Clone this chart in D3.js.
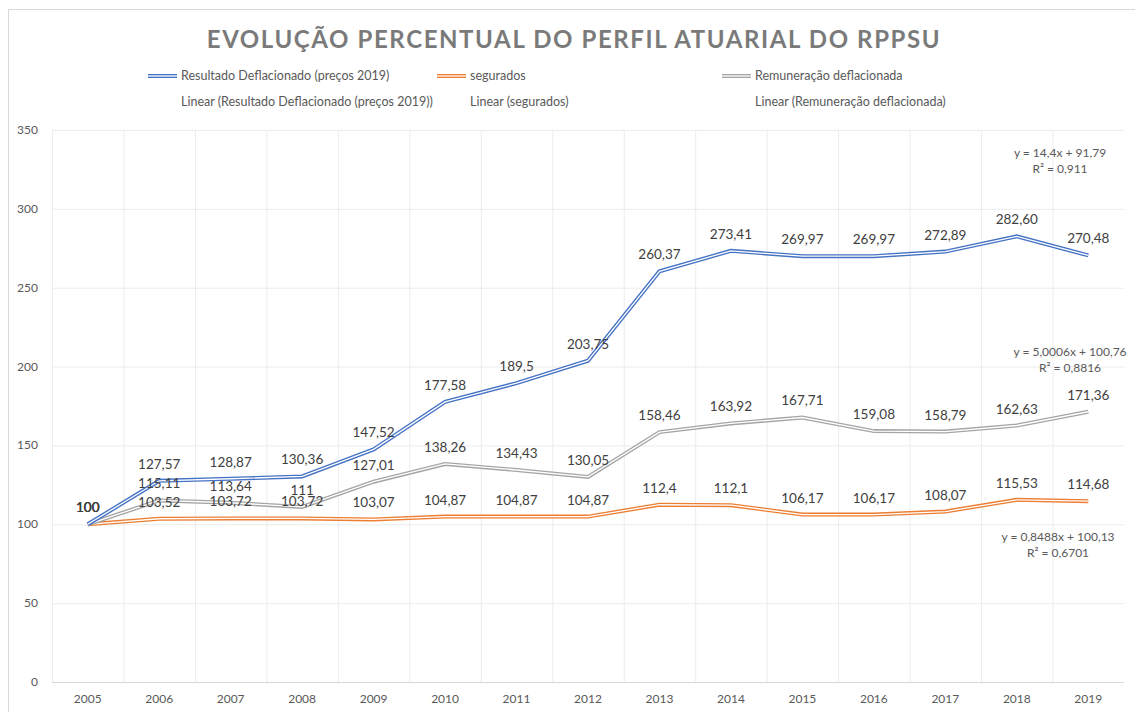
<!DOCTYPE html>
<html>
<head>
<meta charset="utf-8">
<script src="https://cdn.jsdelivr.net/npm/d3@7"></script>
<style>
  body { margin: 0; background: #fff; }
  text { font-family: Lato, "Open Sans", sans-serif; }
</style>
</head>
<body>
<script>
var years = ['2005','2006','2007','2008','2009','2010','2011','2012','2013','2014','2015','2016','2017','2018','2019'];
var resultado = [100,127.57,128.87,130.36,147.52,177.58,189.5,203.75,260.37,273.41,269.97,269.97,272.89,282.60,270.48];
var segurados = [100,103.52,103.72,103.72,103.07,104.87,104.87,104.87,112.4,112.1,106.17,106.17,108.07,115.53,114.68];
var remuneracao = [100,115.11,113.64,111,127.01,138.26,134.43,130.05,158.46,163.92,167.71,159.08,158.79,162.63,171.36];
var yTicks = [0,50,100,150,200,250,300,350];

var series = [
  {name: 'Resultado Deflacionado (preços 2019)', values: resultado, color: '#4472C4'},
  {name: 'segurados', values: segurados, color: '#ED7D31'},
  {name: 'Remuneração deflacionada', values: remuneracao, color: '#A5A5A5'}
];
var trends = [
  {eq: 'y = 14,4x + 91,79', r2: 'R² = 0,911', x: 1060, y: 153},
  {eq: 'y = 5,0006x + 100,76', r2: 'R² = 0,8816', x: 1070, y: 352},
  {eq: 'y = 0,8488x + 100,13', r2: 'R² = 0,6701', x: 1058, y: 537}
];

var W = 1135, H = 712;
var svg = d3.select('body').append('svg').attr('width', W).attr('height', H);

// chart border
svg.append('rect').attr('x', 8.5).attr('y', 9.5).attr('width', W).attr('height', H)
  .attr('fill', 'none').attr('stroke', '#d9d9d9');

var x = d3.scaleBand().domain(years).range([52, 1124]);
var y = d3.scaleLinear().domain([0, 350]).range([682, 130]);
var cx = function (i) { return x(years[i]) + x.bandwidth() / 2; };

// title
svg.append('text').attr('x', 574).attr('y', 48).attr('text-anchor', 'middle')
  .attr('font-size', 24).attr('font-weight', 'bold').attr('fill', '#7a7a7a')
  .attr('letter-spacing', 1.6)
  .text('EVOLUÇÃO PERCENTUAL DO PERFIL ATUARIAL DO RPPSU');

// grid
var g = svg.append('g');
g.selectAll('line.h').data(yTicks).enter().append('line')
  .attr('x1', 52).attr('x2', 1124).attr('y1', function (d) { return y(d) + 0.5; })
  .attr('y2', function (d) { return y(d) + 0.5; })
  .attr('stroke', function (d) { return d === 0 ? '#d9d9d9' : '#ececec'; });
g.selectAll('line.v').data(years.slice(1)).enter().append('line')
  .attr('x1', function (d) { return x(d) + 0.5; }).attr('x2', function (d) { return x(d) + 0.5; })
  .attr('y1', 130).attr('y2', 682).attr('stroke', '#ececec');
g.append('line').attr('x1', 52.5).attr('x2', 52.5).attr('y1', 130).attr('y2', 682).attr('stroke', '#ececec');

// axes labels
svg.selectAll('text.yt').data(yTicks).enter().append('text')
  .attr('x', 38).attr('y', function (d) { return y(d) + 4; }).attr('text-anchor', 'end')
  .attr('font-size', 12).attr('fill', '#595959').text(function (d) { return d; });
svg.selectAll('text.xt').data(years).enter().append('text')
  .attr('x', function (d, i) { return cx(i); }).attr('y', 703).attr('text-anchor', 'middle')
  .attr('font-size', 12).attr('fill', '#595959').text(function (d) { return d; });

// double lines
var line = d3.line().x(function (d, i) { return cx(i); }).y(function (d) { return y(d); });
var order = [1, 2, 0];
order.forEach(function (k) {
  var s = series[k];
  svg.append('path').attr('d', line(s.values)).attr('fill', 'none')
    .attr('stroke', s.color).attr('stroke-width', 4).attr('stroke-linejoin', 'miter');
  svg.append('path').attr('d', line(s.values)).attr('fill', 'none')
    .attr('stroke', '#fff').attr('stroke-width', 1.3).attr('stroke-linejoin', 'miter');
});

// data labels
var fmt = function (v) { return String(v).replace('.', ','); };
var labelText = function (v) { return v === 282.60 ? '282,60' : fmt(v); };
series.forEach(function (s) {
  svg.selectAll(null).data(s.values).enter().append('text')
    .attr('x', function (d, i) { return cx(i); })
    .attr('y', function (d) { return y(d) - 12; })
    .attr('text-anchor', 'middle').attr('font-size', 13.5).attr('fill', '#404040')
    .text(labelText);
});

// trend equations
trends.forEach(function (t) {
  svg.append('text').attr('x', t.x).attr('y', t.y + 4).attr('text-anchor', 'middle')
    .attr('font-size', 12).attr('fill', '#595959').text(t.eq);
  svg.append('text').attr('x', t.x).attr('y', t.y + 20).attr('text-anchor', 'middle')
    .attr('font-size', 12).attr('fill', '#595959').text(t.r2);
});

// legend
var legX = [148, 437, 722];
series.forEach(function (s, i) {
  var lg = svg.append('g');
  lg.append('line').attr('x1', legX[i]).attr('x2', legX[i] + 29).attr('y1', 76).attr('y2', 76)
    .attr('stroke', s.color).attr('stroke-width', 4);
  lg.append('line').attr('x1', legX[i]).attr('x2', legX[i] + 29).attr('y1', 76).attr('y2', 76)
    .attr('stroke', '#fff').attr('stroke-width', 1.3);
  lg.append('text').attr('x', legX[i] + 33).attr('y', 80).attr('font-size', 12.5)
    .attr('fill', '#595959').text(s.name);
  lg.append('text').attr('x', legX[i] + 33).attr('y', 106).attr('font-size', 12.5)
    .attr('fill', '#595959').text('Linear (' + s.name + ')');
});
</script>
</body>
</html>
